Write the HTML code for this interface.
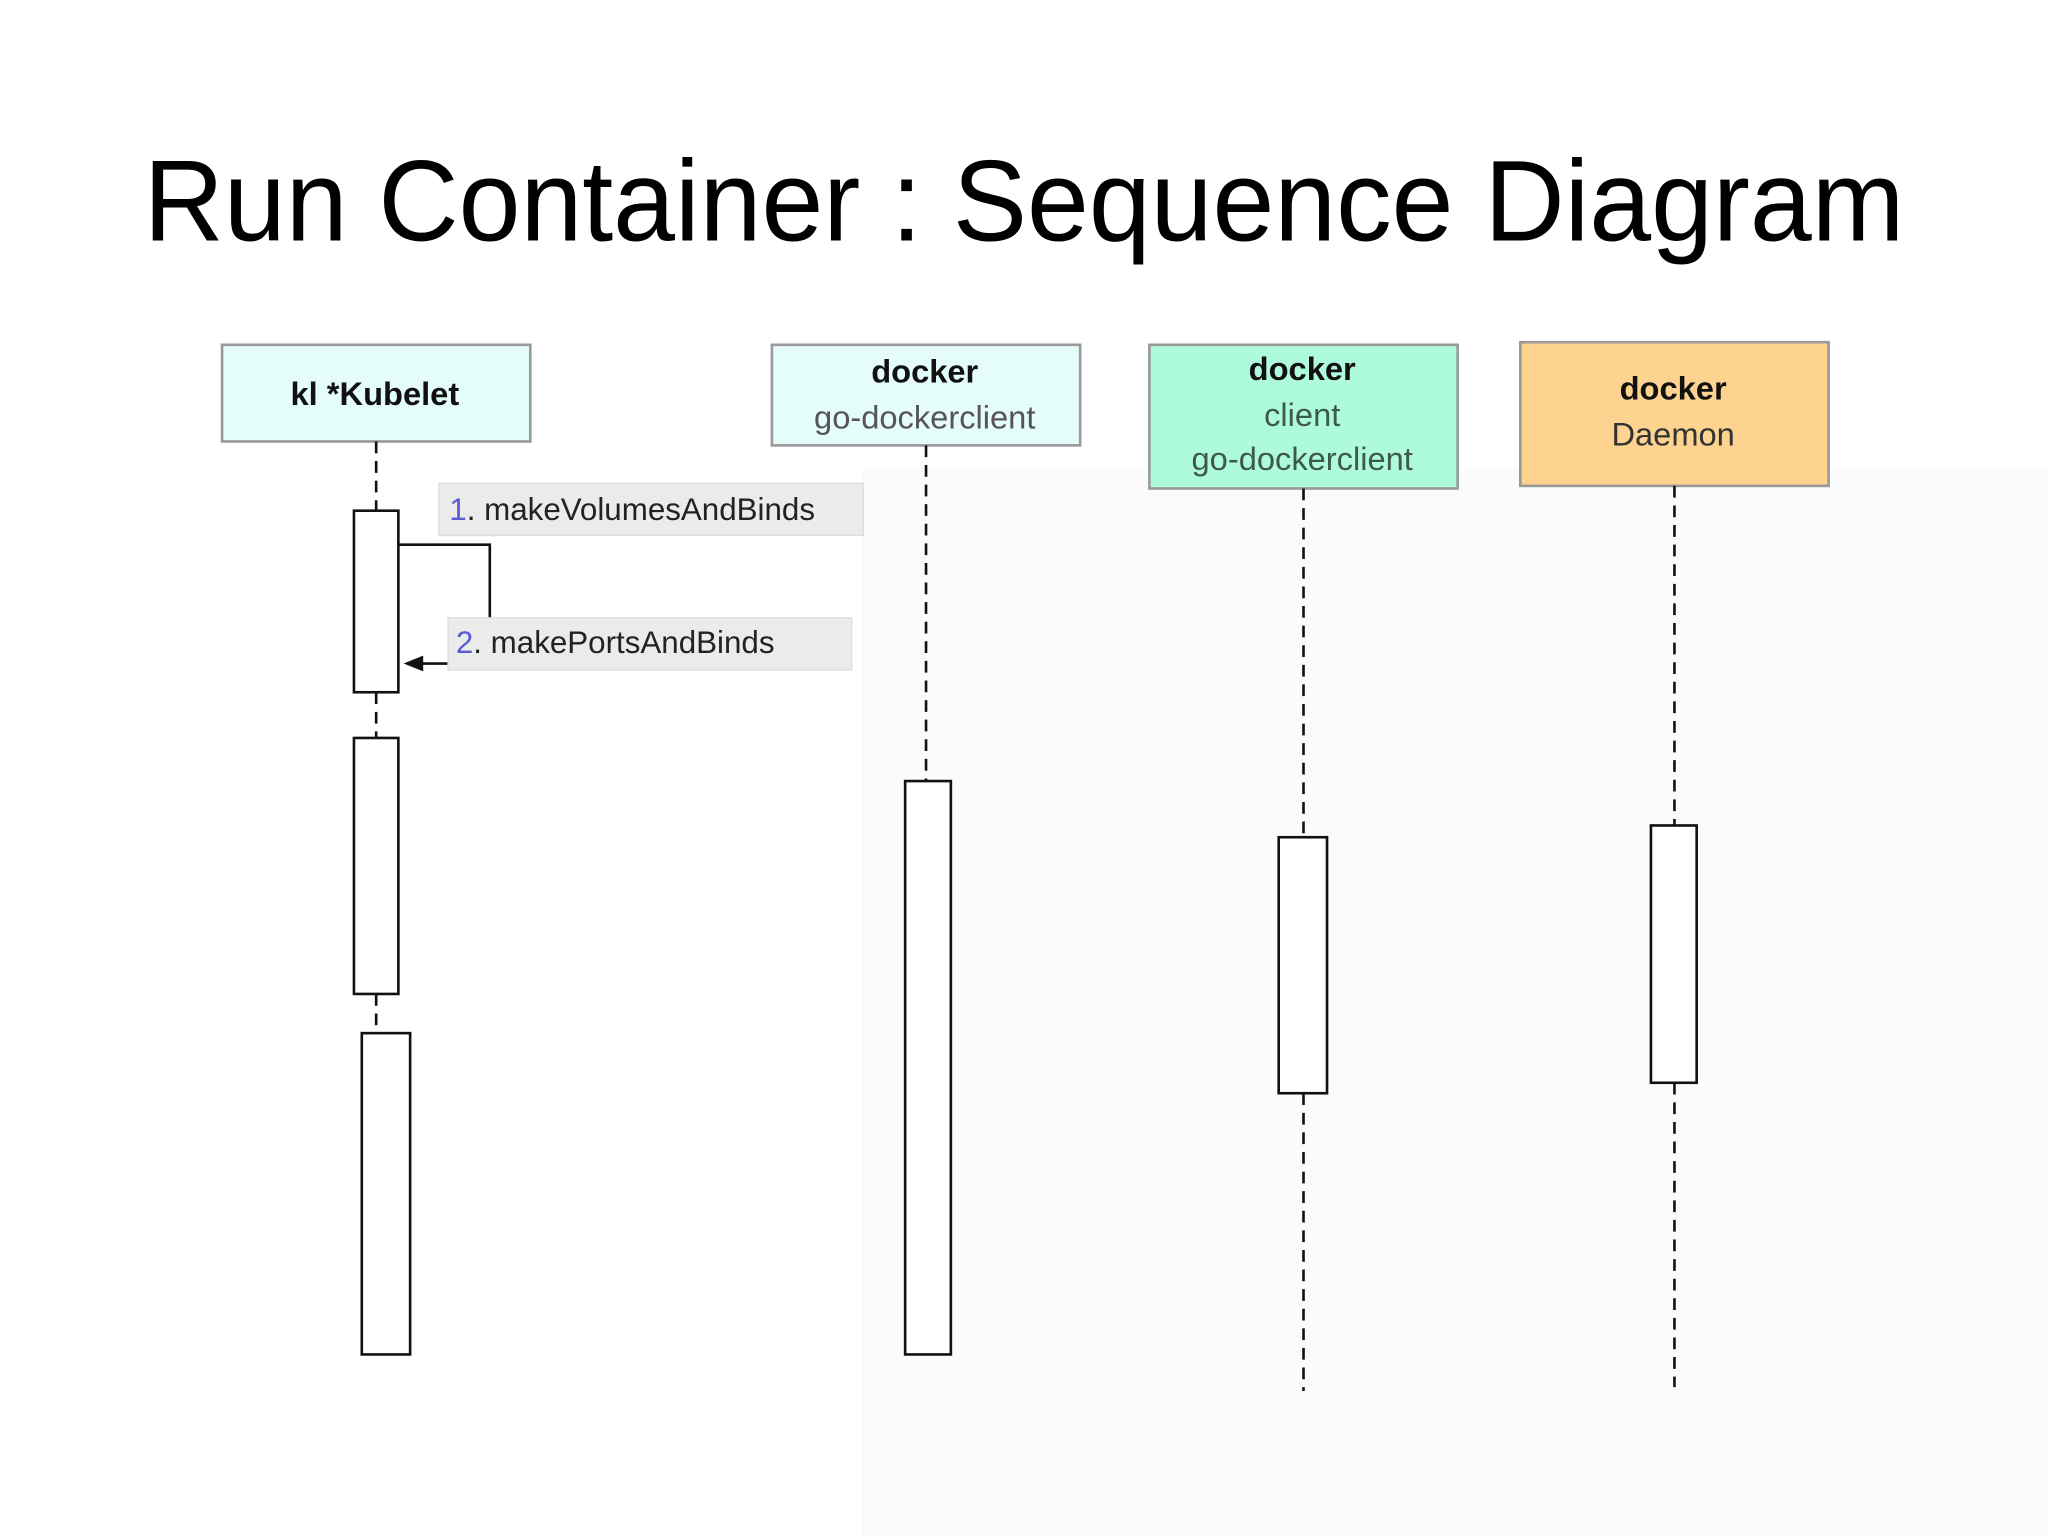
<!DOCTYPE html>
<html><head><meta charset="utf-8"><style>
html,body{margin:0;padding:0;background:#fff;}
svg{display:block;}
</style></head><body>
<svg width="2048" height="1536" viewBox="0 0 1568 1176" xmlns="http://www.w3.org/2000/svg">
<rect x="0" y="0" width="1568" height="1176" fill="#fff"/>
<rect x="660" y="360" width="908" height="816" fill="#fbfbfb"/>
<text x="784" y="184" text-anchor="middle" font-family="Liberation Sans, sans-serif" font-size="88" textLength="1348" lengthAdjust="spacingAndGlyphs" fill="#000">Run Container : Sequence Diagram</text>

<g font-family="Liberation Sans, sans-serif" text-anchor="middle">
<rect x="170" y="264" width="236" height="74" fill="#e4fcfa" stroke="#999" stroke-width="2"/>
<text x="287" y="310" font-size="25" font-weight="bold" fill="#111">kl *Kubelet</text>

<rect x="591" y="264" width="236" height="77" fill="#e4fcfa" stroke="#999" stroke-width="2"/>
<text x="708" y="293" font-size="25" font-weight="bold" fill="#111">docker</text>
<text x="708" y="328" font-size="25" fill="#555">go-dockerclient</text>

<rect x="880" y="264" width="236" height="110" fill="#aefadc" stroke="#999" stroke-width="2"/>
<text x="997" y="291" font-size="25" font-weight="bold" fill="#111">docker</text>
<text x="997" y="326" font-size="25" fill="#3d5a4d">client</text>
<text x="997" y="360" font-size="25" fill="#3d5a4d">go-dockerclient</text>

<rect x="1164" y="262" width="236" height="110" fill="#fdd38f" stroke="#999" stroke-width="2"/>
<text x="1281" y="306" font-size="25" font-weight="bold" fill="#111">docker</text>
<text x="1281" y="341" font-size="25" fill="#333">Daemon</text>
</g>

<g stroke="#111" stroke-width="2" stroke-dasharray="9,6" fill="none">
<line x1="288" y1="338" x2="288" y2="391"/>
<line x1="288" y1="530" x2="288" y2="565"/>
<line x1="288" y1="761" x2="288" y2="791"/>
<line x1="709" y1="341" x2="709" y2="598"/>
<line x1="998" y1="374" x2="998" y2="641"/>
<line x1="998" y1="837" x2="998" y2="1065"/>
<line x1="1282" y1="372" x2="1282" y2="632"/>
<line x1="1282" y1="829" x2="1282" y2="1062"/>
</g>

<g fill="#fff" stroke="#111" stroke-width="2">
<rect x="271" y="391" width="34" height="139"/>
<rect x="271" y="565" width="34" height="196"/>
<rect x="277" y="791" width="37" height="246"/>
<rect x="693" y="598" width="35" height="439"/>
<rect x="979" y="641" width="37" height="196"/>
<rect x="1264" y="632" width="35" height="197"/>
</g>

<polyline points="305,417 375,417 375,475" fill="none" stroke="#111" stroke-width="2"/>
<line x1="343" y1="508" x2="322" y2="508" stroke="#111" stroke-width="2"/>
<polygon points="309,508 324,502 324,514" fill="#111"/>

<rect x="336" y="370" width="325" height="40" fill="#ebebeb" stroke="#ddd" stroke-width="1"/>
<rect x="343" y="473" width="309" height="40" fill="#ebebeb" stroke="#ddd" stroke-width="1"/>
<g font-family="Liberation Sans, sans-serif" font-size="24">
<text x="344" y="398"><tspan fill="#5b5bd6">1</tspan><tspan fill="#222">. makeVolumesAndBinds</tspan></text>
<text x="349" y="500"><tspan fill="#5b5bd6">2</tspan><tspan fill="#222">. makePortsAndBinds</tspan></text>
</g>
</svg>
</body></html>
